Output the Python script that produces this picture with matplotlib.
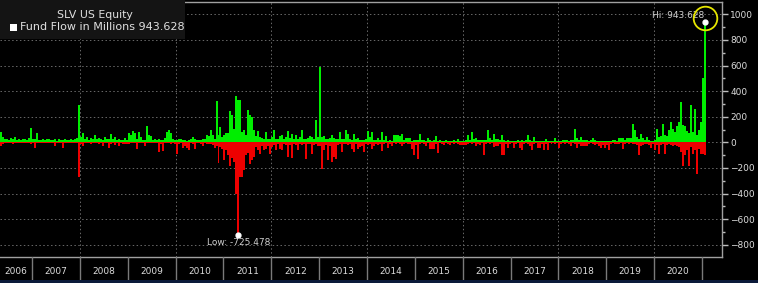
import numpy as np
import matplotlib.pyplot as plt
from matplotlib.patches import Rectangle

# SLV US Equity - fund flow in millions, half-month buckets (24 per year)
# 2006 starts at bucket 8 (fund launched end of April), 2021 has 2 buckets
first_bucket_2006 = 8
years = list(range(2006, 2022))

inflow = [
    # 2006 (buckets 8..23)
    80, 40, 25, 30, 20, 35, 25, 40, 20, 30, 15, 25, 30, 20, 35, 112,
    # 2007
    30, 25, 73, 20, 15, 25, 20, 30, 25, 15, 20, 25, 10, 30, 20, 15, 25, 20, 15, 30, 20, 25, 35, 295,
    # 2008
    40, 73, 30, 42, 20, 35, 30, 55, 25, 35, 30, 20, 45, 25, 30, 63, 25, 40, 20, 25, 15, 20, 37, 15,
    # 2009
    70, 60, 89, 73, 30, 81, 40, 20, 15, 130, 55, 50, 20, 25, 20, 30, 15, 20, 35, 80, 99, 70, 25, 15,
    # 2010
    20, 25, 25, 20, 15, 10, 20, 30, 42, 25, 20, 15, 20, 25, 30, 55, 50, 99, 55, 30, 324, 60, 120, 40,
    # 2011
    60, 73, 73, 245, 211, 107, 360, 334, 329, 80, 94, 60, 250, 211, 198, 99, 50, 86, 40, 37, 30, 81, 30, 25,
    # 2012
    40, 99, 30, 25, 47, 60, 30, 40, 89, 35, 68, 30, 55, 25, 40, 99, 30, 25, 35, 47, 42, 30, 177, 40,
    # 2013
    585, 40, 47, 30, 25, 35, 55, 37, 25, 30, 81, 25, 30, 94, 68, 25, 20, 63, 25, 37, 16, 15, 20, 25,
    # 2014
    89, 42, 81, 20, 15, 37, 20, 78, 15, 47, 10, 15, 10, 55, 60, 55, 50, 68, 15, 37, 35, 37, 10, 15,
    # 2015
    15, 20, 68, 20, 15, 10, 37, 15, 10, 15, 47, 10, 20, 10, 8, 16, 10, 8, 10, 15, 10, 29, 10, 8,
    # 2016
    10, 15, 55, 20, 81, 30, 37, 20, 21, 21, 21, 15, 99, 37, 20, 63, 29, 29, 15, 55, 20, 10, 16, 10,
    # 2017
    8, 10, 8, 16, 10, 16, 10, 20, 55, 15, 10, 42, 10, 8, 10, 8, 10, 29, 8, 10, 8, 10, 37, 10,
    # 2018
    10, 8, 21, 21, 21, 10, 15, 20, 104, 37, 20, 42, 21, 21, 21, 10, 15, 37, 21, 10, 8, 10, 10, 10,
    # 2019
    10, 8, 10, 21, 21, 10, 37, 37, 37, 15, 37, 37, 37, 141, 99, 40, 30, 68, 37, 20, 42, 15, 10, 8,
    # 2020
    20, 107, 40, 50, 146, 60, 50, 99, 159, 107, 80, 125, 159, 316, 133, 125, 90, 70, 290, 81, 264, 60, 94, 159,
    # 2021
    506, 943.628,
]

outflow = [
    # 2006 (buckets 8..23)
    -30, -10, -5, -5, -8, -5, -10, -5, -5, -5, -5, -8, -5, -5, -5, -10,
    # 2007
    -5, -44, -5, -8, -5, -5, -8, -5, -5, -5, -8, -25, -5, -5, -5, -42, -5, -5, -5, -5, -8, -5, -5, -271,
    # 2008
    -10, -30, -5, -8, -5, -10, -5, -8, -5, -10, -8, -30, -8, -5, -44, -10, -5, -20, -5, -30, -5, -10, -12, -10,
    # 2009
    -10, -5, -8, -5, -50, -5, -8, -5, -25, -5, -5, -8, -5, -5, -8, -76, -10, -70, -8, -5, -5, -10, -8, -15,
    # 2010
    -89, -10, -8, -42, -30, -42, -63, -8, -10, -50, -8, -5, -10, -25, -8, -10, -15, -12, -20, -42, -30, -162, -40, -55,
    # 2011
    -136, -60, -100, -188, -120, -150, -402, -725.478, -271, -271, -219, -100, -80, -167, -141, -115, -40, -63, -89, -30, -63, -50, -30, -89,
    # 2012
    -40, -20, -58, -15, -50, -63, -15, -20, -115, -20, -120, -15, -20, -63, -15, -20, -10, -128, -15, -10, -94, -20, -15, -30,
    # 2013
    -30, -206, -63, -20, -141, -30, -154, -115, -128, -20, -15, -76, -10, -15, -20, -10, -50, -76, -15, -50, -37, -30, -76, -15,
    # 2014
    -20, -15, -50, -30, -10, -24, -10, -68, -10, -8, -42, -10, -30, -8, -10, -8, -10, -30, -10, -8, -10, -15, -50, -102,
    # 2015
    -20, -128, -10, -8, -10, -30, -8, -50, -50, -50, -10, -84, -8, -10, -24, -8, -10, -24, -8, -10, -8, -10, -24, -24,
    # 2016
    -24, -24, -10, -8, -10, -8, -30, -10, -24, -8, -102, -10, -8, -10, -8, -37, -30, -30, -10, -102, -102, -10, -42, -10,
    # 2017
    -8, -42, -10, -8, -42, -58, -10, -8, -10, -30, -58, -10, -8, -42, -42, -10, -58, -10, -58, -8, -10, -8, -10, -8,
    # 2018
    -42, -10, -8, -10, -8, -10, -30, -8, -10, -42, -10, -30, -30, -30, -30, -10, -8, -10, -24, -10, -30, -42, -20, -42,
    # 2019
    -20, -58, -10, -8, -10, -15, -10, -8, -50, -10, -8, -10, -8, -10, -15, -20, -102, -30, -20, -15, -10, -20, -42, -15,
    # 2020
    -58, -20, -94, -20, -15, -89, -20, -15, -20, -25, -20, -30, -40, -76, -188, -102, -60, -188, -40, -89, -60, -245, -50, -89,
    # 2021
    -89, -102,
]

last_value = 943.628
hi_value = 943.628
lo_value = -725.478
year_labels = [str(y) for y in range(2006, 2021)]

# bucket centre positions in fractional years
x = []
for yr in years:
    if yr == 2006:
        ks = range(first_bucket_2006, 24)
    elif yr == 2021:
        ks = range(0, 2)
    else:
        ks = range(24)
    for k in ks:
        x.append(yr + (k + 0.5) / 24)
x = np.array(x)
inflow = np.array(inflow)
outflow = np.array(outflow)

W, H = 758, 283
fig = plt.figure(figsize=(W / 100, H / 100), dpi=100, facecolor='black')
plt.rcParams['font.family'] = 'DejaVu Sans'

x0, x1 = 2006.33, 2021.417
ax = fig.add_axes([0, 26 / H, 722 / W, 255 / H], facecolor='black')
ax.bar(x, inflow, width=1 / 24, color='#00ee00', linewidth=0)
ax.bar(x, outflow, width=1 / 24, color='#ee0000', linewidth=0)
ax.set_xlim(x0, x1)
ax.set_ylim(-895, 1096)

ax.yaxis.tick_right()
ax.set_yticks(range(-800, 1001, 200))
ax.set_yticks(range(-800, 1001, 100), minor=True)
ax.tick_params(axis='y', which='major', colors='#bdbdbd', labelcolor='#dcdcdc', labelsize=6.5,
               length=4, width=1, pad=2)
ax.tick_params(axis='y', which='minor', colors='#bdbdbd', length=2, width=1)
ax.set_xticks(range(2008, 2021, 2))
ax.tick_params(axis='x', length=0, labelbottom=False)
ax.grid(True, which='major', color='#6a6a6a', linestyle=(0, (1.5, 2.5)), linewidth=0.7)
ax.set_axisbelow(True)
ax.spines['left'].set_visible(False)
for side in ['right', 'top', 'bottom']:
    ax.spines[side].set_color('#a0a0a0')
    ax.spines[side].set_linewidth(1)

# hi / low markers
i_hi = int(np.argmax(inflow))
i_lo = int(np.argmin(outflow))
ax.plot(x[i_hi], hi_value, 'o', color='white', markersize=3.5, zorder=5)
ax.plot(x[i_hi], hi_value + 30, 'o', mfc='none', mec='#e6e600', mew=1.3, markersize=17, zorder=6)
ax.annotate('Hi: %.3f' % hi_value, (x[i_hi], hi_value), xytext=(-1, 6), textcoords='offset pixels',
            ha='right', va='center', color='#d0d0d0', fontsize=6.5, zorder=4)
ax.plot(x[i_lo], lo_value, 'o', color='white', markersize=3.5, zorder=5)
ax.annotate('Low: %.3f' % lo_value, (x[i_lo], lo_value), xytext=(0, -7), textcoords='offset pixels',
            ha='center', va='center', color='#d0d0d0', fontsize=6.5)

# year band
bx = fig.add_axes([0, 3 / H, 722 / W, 23 / H], facecolor='black')
bx.set_xlim(x0, x1)
bx.set_ylim(0, 1)
bx.axis('off')
for yr in range(2007, 2022):
    bx.axvline(yr, color='#7a7a7a', linewidth=1)
for lab in year_labels:
    yr = int(lab)
    left = max(yr, x0)
    bx.text((left + yr + 1) / 2, 0.35, lab, ha='center', va='center', color='#dcdcdc', fontsize=6.5)

# bottom strip
sx = fig.add_axes([0, 0, 1, 3 / H], facecolor='#0b1a3a')
sx.set_xticks([])
sx.set_yticks([])
for s in sx.spines.values():
    s.set_visible(False)

# legend box
fig.patches.append(Rectangle((0, (H - 39) / H), 185 / W, 39 / H, transform=fig.transFigure,
                             facecolor='#141414', edgecolor='none', zorder=3))
fig.text(95 / W, 1 - 15 / H, 'SLV US Equity', ha='center', va='center', color='#e0e0e0',
         fontsize=7.8, zorder=4)
fig.patches.append(Rectangle((10 / W, 1 - 31 / H), 7 / W, 7 / H, transform=fig.transFigure,
                             facecolor='white', edgecolor='none', zorder=4))
fig.text(20 / W, 1 - 27.5 / H, 'Fund Flow in Millions %.3f' % last_value, ha='left', va='center',
         color='#e0e0e0', fontsize=8.0, zorder=4)

fig.savefig('out.png', dpi=100, facecolor='black')
